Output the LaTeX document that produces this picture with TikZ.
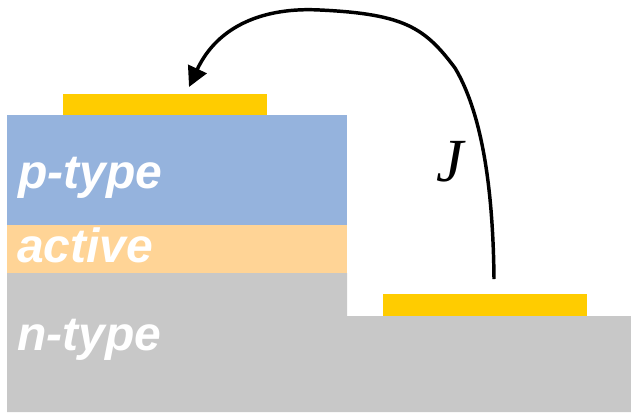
\documentclass[tikz,border=0pt]{standalone}
\usepackage{fontspec}
\setmainfont{Liberation Sans}
\newfontfamily\symbolfont{Liberation Serif}
\usepackage{tikz}
\usetikzlibrary{arrows.meta,positioning,calc}

\definecolor{ptype}{RGB}{149,179,221}
\definecolor{activelayer}{RGB}{255,212,150}
\definecolor{ntype}{RGB}{200,200,200}
\definecolor{contact}{RGB}{255,204,0}

\tikzset{
    layerlabel/.style={anchor=base west, inner sep=0pt, text=white,
        font=\fontsize{36}{36}\selectfont\bfseries\itshape},
    current/.style={line width=2.6pt, -{Triangle[length=15pt,width=15pt]}}
}

\begin{document}
\begin{tikzpicture}[x=0.75pt, y=-0.75pt]
    \useasboundingbox (0,0) rectangle (631,412);

    % Substrate and mesa
    \fill[ntype] (7,273) -- (347,273) -- (347,316) -- (631,316) -- (631,412) -- (7,412) -- cycle;
    \fill[activelayer] (7,225) rectangle (347,273);
    \fill[ptype] (7,115) rectangle (347,225);

    % Contacts
    \fill[contact] (63,94) rectangle (267,115);
    \fill[contact] (383,294) rectangle (587,316);

    % Layer names
    \node[layerlabel] (plabel) at (18,188) {p-type};
    \node[layerlabel] (alabel) at (17,262) {active};
    \node[layerlabel] (nlabel) at (17,350) {n-type};

    % Current path
    \coordinate (jstart) at (494,279);
    \coordinate (jbend) at (455,68);
    \coordinate (jtop) at (320,10);
    \coordinate (jend) at (189,87);
    \draw[current] (jstart) .. controls (493,180) and (480,110) .. (jbend)
        .. controls (425,28) and (405,14) .. (jtop)
        .. controls (265,7) and (218,25) .. (jend);
    \node[anchor=base, inner sep=0pt, font=\fontsize{46}{46}\symbolfont\itshape] (jlabel) at (450,181) {J};
\end{tikzpicture}
\end{document}
